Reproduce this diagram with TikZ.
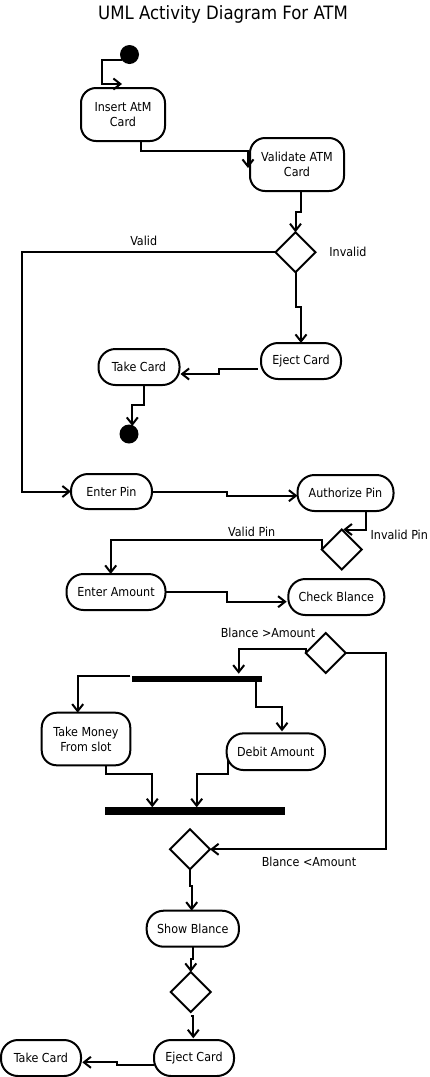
\documentclass[tikz,border=0pt]{standalone}
\usepackage{fontspec}
\setmainfont{DejaVu Sans Condensed}
\usetikzlibrary{shapes.geometric,arrows.meta,calc}
\tikzset{
  act/.style={draw,line width=2pt,rounded corners=17pt,inner sep=0pt,outer sep=0pt,align=center,font=\fontsize{12.4}{15}\selectfont},
  act2/.style={act,rounded corners=15pt},
  dec/.style={draw,diamond,aspect=1,line width=2pt,inner sep=0pt,outer sep=0pt,minimum size=40pt},
  bar/.style={fill=black,inner sep=0pt,outer sep=0pt},
  dot/.style={circle,fill=black,inner sep=0pt,outer sep=0pt,minimum size=19pt},
  arr/.style={line width=2pt,-{Straight Barb[length=7pt,width=11pt]}},
  lbl/.style={anchor=base,inner sep=0pt,font=\fontsize{12.4}{15}\selectfont}
}
\begin{document}
\begin{tikzpicture}[x=1pt,y=-1pt]
\useasboundingbox (0,0) rectangle (430,1077);
% title
\node[anchor=base,inner sep=0pt,font=\fontsize{18.4}{22}\selectfont] (title) at (223,19) {UML Activity Diagram For ATM};
% nodes
\node[dot] (init) at (129.5,54.5) {};
\node[act2,minimum width=84pt,minimum height=53pt] (insert) at (123,114.5) {Insert AtM\\Card};
\node[act2,minimum width=94pt,minimum height=53pt] (validate) at (297,164.5) {Validate ATM\\Card};
\node[dec] (d1) at (295.5,252.3) {};
\node[act,minimum width=80pt,minimum height=36pt] (eject1) at (301,361) {Eject Card};
\node[act,minimum width=81pt,minimum height=36pt] (take1) at (139,367) {Take Card};
\node[dot] (final) at (129,434) {};
\node[act,minimum width=81pt,minimum height=35pt] (enterpin) at (111.5,491.5) {Enter Pin};
\node[act,minimum width=96pt,minimum height=36pt] (authpin) at (345.5,493) {Authorize Pin};
\node[dec] (d2) at (341.7,549.5) {};
\node[act,minimum width=99pt,minimum height=36pt] (enteramt) at (116,592) {Enter Amount};
\node[act,minimum width=96pt,minimum height=36pt] (checkbal) at (336.3,597) {Check Blance};
\node[dec] (d3) at (325.7,653) {};
\node[bar,minimum width=129.4pt,minimum height=6.6pt] (fork1) at (197,679) {};
\node[act2,minimum width=88.6pt,minimum height=52.6pt] (takemoney) at (86,739) {Take Money\\From slot};
\node[act,minimum width=98.3pt,minimum height=36.7pt] (debit) at (275.8,751.7) {Debit Amount};
\node[bar,minimum width=180pt,minimum height=7.4pt] (join) at (195,811) {};
\node[dec] (d4) at (190,849.3) {};
\node[act,minimum width=92.3pt,minimum height=36pt] (showbal) at (192.8,928.7) {Show Blance};
\node[dec] (d5) at (190.8,992) {};
\node[act,minimum width=80pt,minimum height=36pt] (eject2) at (194,1058) {Eject Card};
\node[act,minimum width=80pt,minimum height=36pt] (take2) at (41,1058) {Take Card};
% labels
\node[lbl] (lvalid) at (143.7,245) {Valid};
\node[lbl] (linvalid) at (348,256) {Invalid};
\node[lbl] (lvalidpin) at (251.7,536) {Valid Pin};
\node[lbl] (linvalidpin) at (399.3,539.3) {Invalid Pin};
\node[lbl] (lgt) at (268,637.3) {Blance >Amount};
\node[lbl] (llt) at (309,866.7) {Blance <Amount};
% connectors
\draw[arr] (init.215) -| (102,84) -- ($(insert.north)+(-1,-4)$);
\draw[arr] ($(insert.south)+(18.3,0)$) |- (248,151) -- ($(validate.west)+(-2,3.5)$);
\draw[arr] ($(validate.south)+(4,0)$) |- (295.5,212) -- (d1.north);
\draw[arr] (d1.west) -| (22,491.5) -- (enterpin.west);
\draw[arr] (d1.south) -- ++(0,35) -| (eject1.north);
\draw[arr] ($(eject1.west)+(-3.5,8)$) -| (219,374) -- ($(take1.east)+(1,7)$);
\draw[arr] ($(take1.south)+(5,0)$) |- (132.3,405) -- ($(final.north)+(3.3,1.5)$);
\draw[arr] (enterpin.east) -| (226.7,495.7) -- ($(authpin.west)+(0,2.7)$);
\draw[arr] ($(authpin.south)+(20.2,0)$) |- ($(d2.north)+(1.6,0)$);
\draw[arr] (d2.west) -- ++(0,-10) -| ($(enteramt.north)+(-5.3,0)$);
\draw[arr] (enteramt.east) -| (226.7,601.7) -- ($(checkbal.west)+(-1.6,4.7)$);
\draw[arr] (d3.west) -- ++(0,-4) -| ($(fork1.north)+(41.7,-2)$);
\draw[arr] (d3.east) -- ++(40.3,0) |- (d4.east);
\draw[arr] ($(fork1.west)+(-2,-3)$) -| ($(takemoney.north)+(-8.3,0)$);
\draw[arr] ($(fork1.south)+(59,0)$) -- ++(0,24.4) -| ($(debit.north)+(6.2,-2)$);
\draw[arr] ($(takemoney.south)+(20,0)$) -- ++(0,8.7) -| ($(join.north)+(-42.7,0)$);
\draw[arr] ($(debit.west)+(1,8.3)$) -- ++(0,14) -| ($(join.north)+(1.7,0)$);
\draw[arr] (d4.south) -- ++(0,16.4) -| ($(showbal.north)+(-1.1,0)$);
\draw[arr] (showbal.south) -- ++(0,12.6) -| (d5.north);
\draw[arr] ($(d5.south)+(0,3.7)$) -| ($(eject2.north)+(-0.7,-1.7)$);
\draw[arr] ($(eject2.west)+(0,7)$) -| (117.3,1062.3) -- ($(take2.east)+(1.3,4.3)$);
\end{tikzpicture}
\end{document}
